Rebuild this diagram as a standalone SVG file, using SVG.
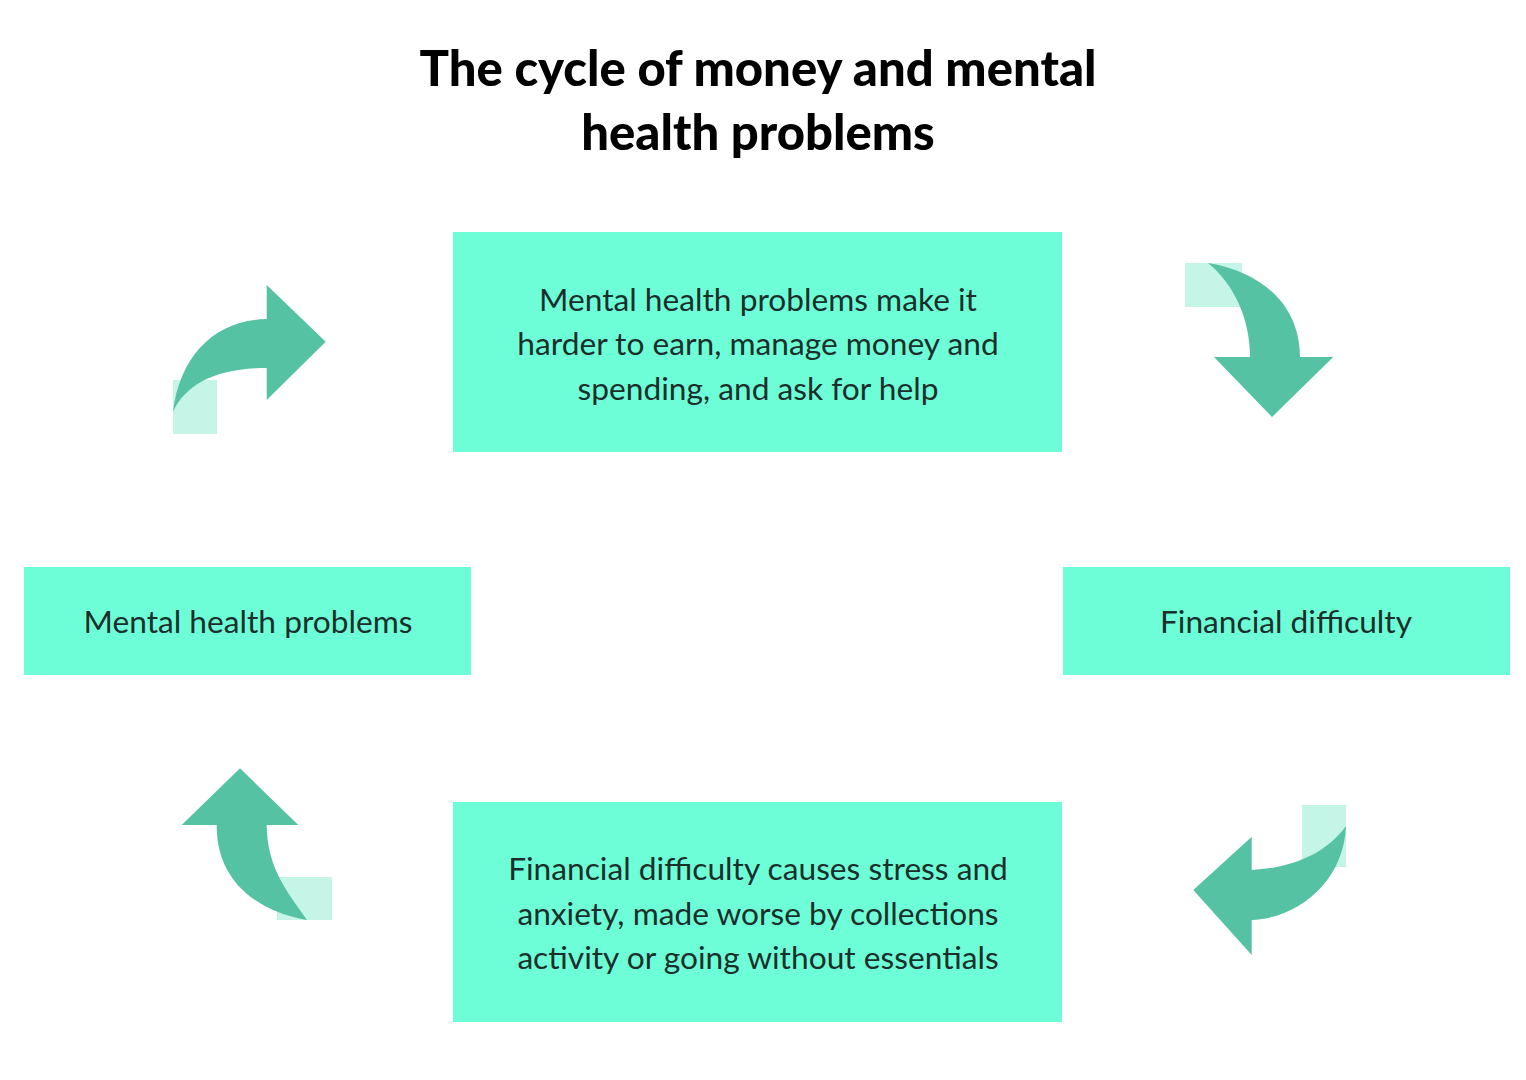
<svg xmlns="http://www.w3.org/2000/svg" width="1526" height="1080" viewBox="0 0 1526 1080">
<defs>
<style>
.box{fill:#6dfed8;}
.lbl{font-family:Lato,"Open Sans","DejaVu Sans",sans-serif;font-size:31.7px;fill:#1b2f2a;text-anchor:middle;}
.title{font-family:Lato,"Open Sans","DejaVu Sans",sans-serif;font-weight:900;font-size:49px;fill:#000;text-anchor:middle;}
.dark{fill:#56c2a4;}
.light{fill:#c4f5e7;}
</style>
</defs>
<rect width="1526" height="1080" fill="#fff"/>
<g id="title">
<text class="title" x="758" y="86">The cycle of money and mental</text>
<text class="title" x="758" y="150">health problems</text>
</g>
<g id="node-top">
<rect class="box" x="453" y="232" width="609" height="220"/>
<text class="lbl" x="758" y="311">Mental health problems make it</text>
<text class="lbl" x="758" y="355">harder to earn, manage money and</text>
<text class="lbl" x="758" y="400">spending, and ask for help</text>
</g>
<g id="node-left">
<rect class="box" x="24" y="567" width="447" height="108"/>
<text class="lbl" x="248" y="633">Mental health problems</text>
</g>
<g id="node-right">
<rect class="box" x="1063" y="567" width="447" height="108"/>
<text class="lbl" x="1286" y="633">Financial difficulty</text>
</g>
<g id="node-bottom">
<rect class="box" x="453" y="802" width="609" height="220"/>
<text class="lbl" x="758" y="880">Financial difficulty causes stress and</text>
<text class="lbl" x="758" y="925">anxiety, made worse by collections</text>
<text class="lbl" x="758" y="969">activity or going without essentials</text>
</g>
<g id="connectors">
<g id="arrow-top-left">
<rect class="light" x="173" y="380" width="44" height="54"/>
<path class="dark" d="M266.7,319 C215,320 180,355 173,412 C185,385 215,368 266.7,368 L266.7,400 L325.7,341.7 L266.7,285 Z"/>
</g>
<g id="arrow-top-right">
<rect class="light" x="1185" y="263" width="57" height="44"/>
<path class="dark" d="M1208,263 C1262,272 1300,305 1300,357 L1333.3,357 L1272,417 L1214,357 L1250,357 C1250,320 1235,285 1208,263 Z"/>
</g>
<g id="arrow-bottom-right">
<rect class="light" x="1302" y="805" width="44" height="62"/>
<path class="dark" d="M1251.7,870 C1290,868 1325,855 1346,826 C1344,880 1300,918 1251.7,920 L1251.7,955 L1193.3,890 L1251.7,836.7 Z"/>
</g>
<g id="arrow-bottom-left">
<rect class="light" x="277" y="877" width="55" height="43"/>
<path class="dark" d="M216.7,825 C216,875 250,910 307,920 C290,895 267,870 266.7,825 L298.3,825 L240,768.3 L181.7,825 Z"/>
</g>
</g>
</svg>
